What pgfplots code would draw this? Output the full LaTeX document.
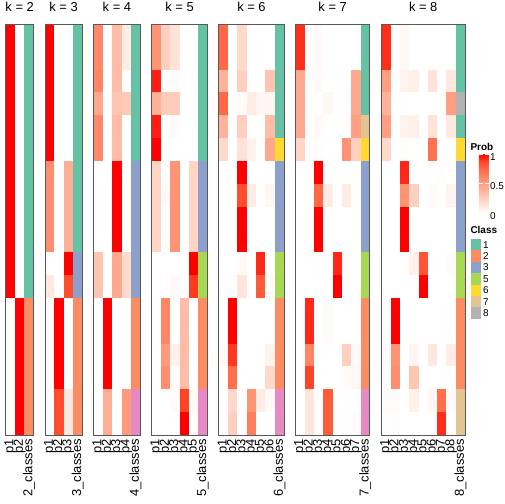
\documentclass[border=0pt]{standalone}
\usepackage{pgfplots}
\pgfplotsset{compat=1.18}
\usepackage{pgfplotstable}
\usepackage{fontspec}
\setmainfont{Liberation Sans}

\definecolor{c1}{HTML}{66C2A5}
\definecolor{c2}{HTML}{FC8D62}
\definecolor{c3}{HTML}{8DA0CB}
\definecolor{c4}{HTML}{E78AC3}
\definecolor{c5}{HTML}{A6D854}
\definecolor{c6}{HTML}{FFD92F}
\definecolor{c7}{HTML}{E5C494}
\definecolor{c8}{HTML}{B3B3B3}

\pgfplotstableread{
r p1 p2 cls
1 1 0 1
2 1 0 1
3 1 0 1
4 1 0 1
5 1 0 1
6 1 0 1
7 1 0 1
8 1 0 1
9 1 0 1
10 1 0 1
11 1 0 1
12 1 0 1
13 0 1 2
14 0 1 2
15 0 1 2
16 0 1 2
17 0 1 2
18 0 1 2
}\tabB

\pgfplotstableread{
r p1 p2 p3 cls
1 1 0 0 1
2 1 0 0 1
3 1 0 0 1
4 1 0 0 1
5 1 0 0 1
6 1 0 0 1
7 0.58 0 0.42 1
8 0.58 0 0.42 1
9 0.58 0 0.42 1
10 0.58 0 0.42 1
11 0 0 1 3
12 0.12 0 0.85 3
13 0 1 0 2
14 0 1 0 2
15 0 1 0 2
16 0 1 0 2
17 0 0.85 0.12 2
18 0 0.85 0.12 2
}\tabC

\pgfplotstableread{
r p1 p2 p3 p4 cls
1 0.6 0 0.35 0.1 1
2 0.6 0 0.35 0.1 1
3 0.62 0 0.35 0 1
4 0.45 0 0.3 0.28 1
5 0.6 0 0.35 0 1
6 0.6 0 0.35 0 1
7 0 0 1 0 3
8 0 0 1 0 3
9 0 0 1 0 3
10 0 0 1 0 3
11 0.3 0 0.45 0.2 3
12 0.3 0 0.45 0.2 3
13 0 1 0 0 2
14 0 1 0 0 2
15 0 1 0 0 2
16 0 1 0 0 2
17 0 0.42 0 0.52 4
18 0 0.42 0 0.52 4
}\tabD

\pgfplotstableread{
r p1 p2 p3 p4 p5 cls
1 0.55 0.25 0.15 0 0 1
2 0.55 0.25 0.15 0 0 1
3 0.95 0 0.02 0 0 1
4 0.4 0.27 0.27 0 0 1
5 0.95 0 0.02 0 0 1
6 1 0 0 0 0 1
7 0.22 0 0.55 0 0.22 3
8 0.22 0.02 0.55 0 0.22 3
9 0.22 0 0.55 0 0.22 3
10 0.22 0 0.55 0 0.22 3
11 0 0 0 0 1 5
12 0 0 0.03 0 0.9 5
13 0 0.62 0 0.35 0 2
14 0 0.62 0 0.35 0 2
15 0 0.52 0.08 0.35 0 2
16 0 0.58 0.02 0.35 0 2
17 0 0 0.02 0.88 0.03 4
18 0 0 0 1 0 4
}\tabE

\pgfplotstableread{
r p1 p2 p3 p4 p5 p6 cls
1 0.75 0 0.2 0 0 0 1
2 0.75 0 0.2 0 0 0 1
3 0.4 0 0.25 0 0 0.3 1
4 0.75 0 0.02 0.1 0.05 0.05 1
5 0.4 0 0.25 0 0 0.35 1
6 0.2 0 0.15 0.07 0 0.45 6
7 0 0 1 0 0 0 3
8 0 0 0.85 0.1 0 0.04 3
9 0 0 1 0 0 0 3
10 0 0 1 0 0 0 3
11 0 0 0.03 0 0.93 0 5
12 0 0 0.13 0 0.8 0.02 5
13 0 1 0 0 0 0 2
14 0 1 0 0 0 0 2
15 0.03 0.9 0 0 0 0.06 2
16 0 0.72 0 0 0 0.2 2
17 0 0.2 0 0.55 0.1 0.03 4
18 0 0.25 0 0.65 0 0 4
}\tabF

\pgfplotstableread{
r p1 p2 p3 p4 p5 p6 p7 cls
1 0.92 0 0.03 0 0 0 0 1
2 0.92 0 0.03 0 0 0 0 1
3 0.45 0 0.03 0 0 0 0.45 1
4 0.45 0 0 0.04 0 0 0.45 1
5 0.45 0 0.03 0 0 0 0.5 7
6 0.22 0 0.01 0 0 0.55 0.25 6
7 0 0 1 0 0 0 0 3
8 0 0 0.75 0.1 0 0.1 0 3
9 0 0 1 0 0 0 0 3
10 0 0 1 0 0 0 0 3
11 0 0 0 0 0.93 0.02 0 5
12 0 0 0 0 1 0 0 5
13 0 0.93 0 0.02 0 0 0 2
14 0 0.93 0 0.02 0 0 0 2
15 0 0.62 0 0 0 0.25 0.03 2
16 0 0.88 0 0 0 0.03 0.04 2
17 0 0.13 0 0.8 0 0 0 4
18 0 0.13 0 0.8 0 0 0.02 4
}\tabG

\pgfplotstableread{
r p1 p2 p3 p4 p5 p6 p7 p8 cls
1 0.92 0 0.04 0 0 0 0 0 1
2 0.92 0 0.04 0 0 0 0 0 1
3 0.5 0 0.06 0.08 0 0.15 0 0.12 1
4 0.4 0 0 0 0 0 0 0.5 8
5 0.5 0 0.06 0.08 0 0.15 0 0.12 1
6 0.2 0 0.01 0 0 0.7 0 0 6
7 0 0 0.93 0 0 0 0.01 0 3
8 0 0 0.55 0.25 0 0.02 0 0.06 3
9 0 0 1 0 0 0 0 0 3
10 0 0 1 0 0 0 0 0 3
11 0 0 0 0.08 0.82 0 0 0.02 5
12 0 0 0 0 1 0 0 0 5
13 0 1 0 0 0 0 0 0 2
14 0 1 0 0 0 0 0 0 2
15 0.02 0.55 0 0.05 0 0.12 0 0.1 2
16 0 0.58 0 0.3 0 0 0 0 2
17 0.02 0.02 0 0.08 0 0.04 0.72 0.02 7
18 0 0.01 0 0 0 0 0.92 0 7
}\tabH

\pgfplotsset{
  colormap={prob}{rgb255=(255,255,255) rgb255=(255,231,222) rgb255=(255,207,191) rgb255=(255,183,160) rgb255=(255,158,129) rgb255=(255,132,100) rgb255=(255,104,70) rgb255=(255,70,40) rgb255=(255,0,0)},
  panel/.style={
    anchor=south west, scale only axis,
    width=#1*9.31bp, height=411bp,
    xmin=0.5, xmax=#1+0.5, ymin=0.5, ymax=18.5, y dir=reverse,
    xtick={1,...,#1}, ytick=\empty,
    major tick length=0pt,
    axis on top,
    axis line style={black!65, line width=0.9bp},
    colormap name=prob, point meta min=0, point meta max=1,
    clip marker paths=true,
    xticklabel shift=4bp,
    xticklabel style={rotate=90, anchor=east, inner sep=0pt, font=\fontsize{13}{13}\selectfont},
    title style={at={(0.5,1)}, anchor=base, yshift=7bp, inner sep=0pt, font=\fontsize{13}{13}\selectfont},
  },
  hmprobstyle/.style={scatter, only marks, mark=square*, mark size=0.5bp,
    point meta=explicit,
    scatter/use mapped color={draw=mapped color, fill=mapped color},
    mark options={xscale=9.31, yscale=22.833, line width=0.05bp}},
  hmclassstyle/.style={only marks, mark=square*, mark size=0.5bp, scatter,
    scatter src=explicit symbolic,
    mark options={xscale=9.31, yscale=22.833, line width=0.05bp},
    scatter/classes={1={draw=c1,fill=c1},2={draw=c2,fill=c2},3={draw=c3,fill=c3},4={draw=c4,fill=c4},5={draw=c5,fill=c5},6={draw=c6,fill=c6},7={draw=c7,fill=c7},8={draw=c8,fill=c8}}},
}

\begin{document}
\begin{tikzpicture}[x=1bp,y=1bp]
\path[use as bounding box] (0,0) rectangle (504,504);

% k = 2
\begin{axis}[panel=3, at={(5.7bp,69bp)}, title={k = 2}, xticklabels={p1,p2,2\_classes}]
\pgfplotsinvokeforeach{1,2}{\addplot[hmprobstyle] table[x expr=#1, y=r, meta=p#1] {\tabB};}
\addplot[hmclassstyle] table[x expr=3, y=r, meta=cls] {\tabB};
\end{axis}

% k = 3
\begin{axis}[panel=4, at={(45.03bp,69bp)}, title={k = 3}, xticklabels={p1,p2,p3,3\_classes}]
\pgfplotsinvokeforeach{1,2,3}{\addplot[hmprobstyle] table[x expr=#1, y=r, meta=p#1] {\tabC};}
\addplot[hmclassstyle] table[x expr=4, y=r, meta=cls] {\tabC};
\end{axis}

% k = 4
\begin{axis}[panel=5, at={(93.67bp,69bp)}, title={k = 4}, xticklabels={p1,p2,p3,p4,4\_classes}]
\pgfplotsinvokeforeach{1,...,4}{\addplot[hmprobstyle] table[x expr=#1, y=r, meta=p#1] {\tabD};}
\addplot[hmclassstyle] table[x expr=5, y=r, meta=cls] {\tabD};
\end{axis}

% k = 5
\begin{axis}[panel=6, at={(151.62bp,69bp)}, title={k = 5}, xticklabels={p1,p2,p3,p4,p5,5\_classes}]
\pgfplotsinvokeforeach{1,...,5}{\addplot[hmprobstyle] table[x expr=#1, y=r, meta=p#1] {\tabE};}
\addplot[hmclassstyle] table[x expr=6, y=r, meta=cls] {\tabE};
\end{axis}

% k = 6
\begin{axis}[panel=7, at={(218.88bp,69bp)}, title={k = 6}, xticklabels={p1,p2,p3,p4,p5,p6,6\_classes}]
\pgfplotsinvokeforeach{1,...,6}{\addplot[hmprobstyle] table[x expr=#1, y=r, meta=p#1] {\tabF};}
\addplot[hmclassstyle] table[x expr=7, y=r, meta=cls] {\tabF};
\end{axis}

% k = 7
\begin{axis}[panel=8, at={(295.45bp,69bp)}, title={k = 7}, xticklabels={p1,p2,p3,p4,p5,p6,p7,7\_classes}]
\pgfplotsinvokeforeach{1,...,7}{\addplot[hmprobstyle] table[x expr=#1, y=r, meta=p#1] {\tabG};}
\addplot[hmclassstyle] table[x expr=8, y=r, meta=cls] {\tabG};
\end{axis}

% k = 8
\begin{axis}[panel=9, at={(381.33bp,69bp)}, title={k = 8}, xticklabels={p1,p2,p3,p4,p5,p6,p7,p8,8\_classes}]
\pgfplotsinvokeforeach{1,...,8}{\addplot[hmprobstyle] table[x expr=#1, y=r, meta=p#1] {\tabH};}
\addplot[hmclassstyle] table[x expr=9, y=r, meta=cls] {\tabH};
\end{axis}

% Prob colour bar
\begin{axis}[anchor=south west, at={(470.3bp,291bp)}, scale only axis, width=10bp, height=59bp,
  hide axis, xmin=0, xmax=1, ymin=0, ymax=1,
  colormap name=prob, point meta min=0, point meta max=1,
  colorbar,
  colorbar style={at={(parent axis.south west)}, anchor=south west, xshift=0pt, yshift=0pt,
    scale only axis, width=10bp, height=59bp,
    ytick={0,0.5,1}, yticklabels={0,0.5,1},
    yticklabel style={font=\fontsize{10}{10}\selectfont, inner sep=0pt, xshift=1bp, yshift=-2.8bp},
    major tick length=4bp, tick align=inside, tick style={white, line width=0.8bp},
    axis line style={draw=none}}]
\end{axis}

% legends
\node[anchor=base west, inner sep=0pt, font=\bfseries\fontsize{10}{10}\selectfont] at (470.3,353.8) {Prob};
\node[anchor=base west, inner sep=0pt, font=\bfseries\fontsize{10}{10}\selectfont] at (470.3,270.3) {Class};
\foreach \c/\l [count=\i] in {c1/1,c2/2,c3/3,c5/5,c6/6,c7/7,c8/8} {
  \fill[\c] (471,{265-(\i-1)*11.4}) rectangle ++(10,-11.4);
  \node[anchor=west, inner sep=0pt, font=\fontsize{10}{10}\selectfont] at (483,{265-(\i-1)*11.4-5.7}) {\l};
}
\end{tikzpicture}
\end{document}
